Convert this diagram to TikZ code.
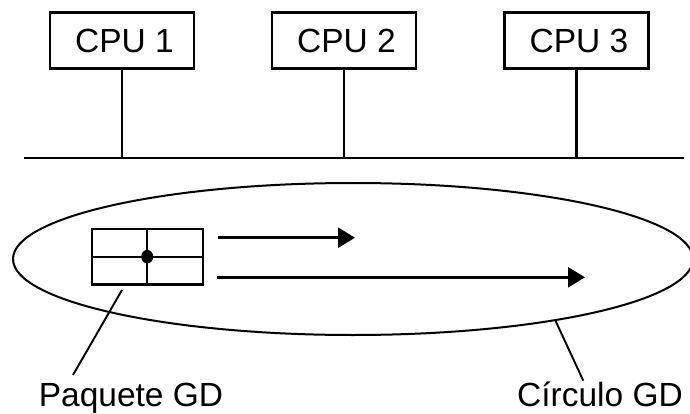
\documentclass[tikz,border=0pt]{standalone}
\usepackage{fontspec}
\setmainfont{Liberation Sans}
\usetikzlibrary{shapes.geometric,arrows.meta}
\begin{document}
\begin{tikzpicture}[x=1pt,y=-1pt,
  cpubox/.style={draw,line width=2.4pt,minimum width=144pt,minimum height=56pt,inner sep=0pt,
    font=\fontsize{33.5}{40}\selectfont},
  wire/.style={line width=2.2pt},
  lbl/.style={font=\fontsize{33.5}{40}\selectfont,inner sep=0pt,anchor=base},
  flow/.style={line width=2.6pt,-{Triangle[length=17pt,width=20pt]}},
  leader/.style={line width=1.9pt}]
\useasboundingbox (0,0) rectangle (690,414);
% CPUs
\node[cpubox] (cpu1) at (122,40.5) {\hspace{5pt}CPU 1};
\node[cpubox] (cpu2) at (344,40.5) {\hspace{5pt}CPU 2};
\node[cpubox] (cpu3) at (576.5,40.5) {\hspace{5pt}CPU 3};
% bus
\coordinate (busL) at (24,158.3);
\coordinate (busR) at (684,158.3);
\draw[wire] (busL) -- (busR);
\draw[wire] (cpu1.south) -- (cpu1.south |- busL);
\draw[wire] (cpu2.south) -- (cpu2.south |- busL);
\draw[wire] (cpu3.south) -- (cpu3.south |- busL);
% ellipse
\node[ellipse,draw,line width=2pt,minimum width=680pt,minimum height=152pt,inner sep=0pt] (circ) at (353,259) {};
% packet
\node[draw,line width=2.4pt,minimum width=111pt,minimum height=55.3pt,inner sep=0pt] (pk) at (147.2,256.7) {};
\draw[line width=2.2pt] (pk.north) -- (pk.south);
\draw[line width=2.2pt] (pk.west) -- (pk.east);
\fill (pk.center) ellipse (6pt and 6.8pt);
% arrows
\coordinate (a1s) at (218,237.7);
\coordinate (a1e) at (355,237.7);
\coordinate (a2s) at (217,277.3);
\coordinate (a2e) at (585,277.3);
\draw[flow] (a1s) -- (a1e);
\draw[flow] (a2s) -- (a2e);
% labels
\node[lbl] (lp) at (131,406) {Paquete GD};
\node[lbl] (lc) at (600,406) {Círculo GD};
\coordinate (p1) at (122,290);
\coordinate (p2) at (73,375);
\draw[leader] (p1) -- (p2);
\coordinate (c2) at (583.3,380.7);
\draw[leader] (circ.-17.9) -- (c2);
\end{tikzpicture}
\end{document}
